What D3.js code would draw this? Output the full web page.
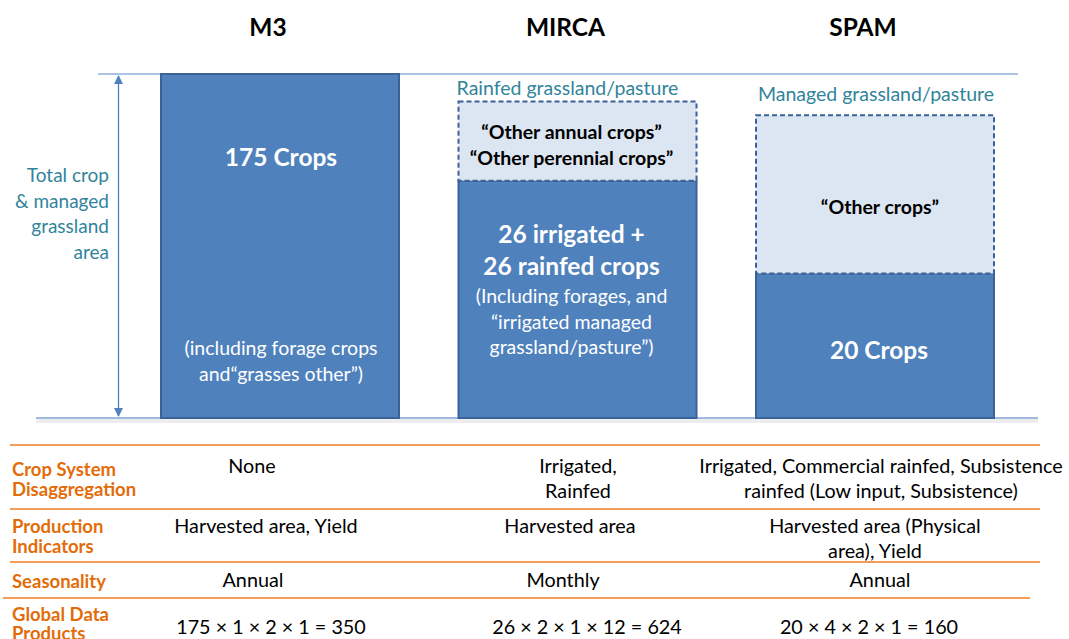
<!DOCTYPE html>
<html>
<head>
<meta charset="utf-8">
<script src="https://cdn.jsdelivr.net/npm/d3@7"></script>
<style>
  html, body { margin: 0; padding: 0; background: #fff; }
  svg { display: block; font-family: Lato, "Open Sans", sans-serif; }
</style>
</head>
<body>
<svg id="chart" width="1069" height="639"></svg>
<script>
// ---------------- DATA ----------------
const models = ["M3", "MIRCA", "SPAM"];
const coreShare = [100, 69, 42];          // share of total crop & managed grassland area (dark part)
const otherShare = [0, 23, 46];           // "other crops" dashed part
const grassLabel = ["", "Rainfed grassland/pasture", "Managed grassland/pasture"];
const otherLabel = [[], ["“Other annual crops”", "“Other perennial crops”"], ["“Other crops”"]];
const coreTitle = [["175 Crops"], ["26 irrigated +", "26 rainfed crops"], ["20 Crops"]];
const coreNote = [["(including forage crops", "and“grasses other”)"],
                  ["(Including forages, and", "“irrigated managed", "grassland/pasture”)"], []];
const axisLabel = ["Total  crop", "& managed", "grassland", "area"];

const rowLabels = [["Crop System", "Disaggregation"], ["Production", "Indicators"], ["Seasonality"], ["Global Data", "Products"]];
const cellText = [
  [["None"], ["Irrigated,", "Rainfed"], ["Irrigated, Commercial rainfed, Subsistence", "rainfed (Low input, Subsistence)"]],
  [["Harvested area, Yield"], ["Harvested area"], ["Harvested area (Physical", "area), Yield"]],
  [["Annual"], ["Monthly"], ["Annual"]],
  [["175 × 1 × 2 × 1 = 350"], ["26 × 2 × 1 × 12 = 624"], ["20 × 4 × 2 × 1 = 160"]]
];

// ---------------- LAYOUT ----------------
const svg = d3.select("#chart");
const darkFill = "#4F81BD", darkStroke = "#3B6296", lightFill = "#DCE6F2";
const teal = "#31849B", orange = "#F59D56", orangeText = "#E36C09";

const x = d3.scaleBand().domain(models).range([161, 994]).paddingInner(0.2).paddingOuter(0);
const y = d3.scaleLinear().domain([0, 100]).range([418, 74]);

// shadow under baseline
svg.append("rect").attr("x", 36).attr("y", y(0) + 1).attr("width", 1002).attr("height", 4)
  .attr("fill", "#EDEDED");
// top and bottom reference lines
svg.append("line").attr("x1", 98).attr("x2", 1018).attr("y1", y(100)).attr("y2", y(100))
  .attr("stroke", "#8FB0D8").attr("stroke-width", 1.3);
svg.append("line").attr("x1", 36).attr("x2", 1038).attr("y1", y(0)).attr("y2", y(0))
  .attr("stroke", "#7FA3D0").attr("stroke-width", 1.5);

// double-headed arrow
const defs = svg.append("defs");
defs.append("marker").attr("id", "ah").attr("viewBox", "0 0 10 10").attr("refX", 9).attr("refY", 5)
  .attr("markerWidth", 7).attr("markerHeight", 7).attr("orient", "auto-start-reverse")
  .append("path").attr("d", "M0,0 L10,5 L0,10 z").attr("fill", "#4F81BD");
svg.append("line").attr("x1", 118.5).attr("x2", 118.5).attr("y1", y(100) + 2).attr("y2", y(0) - 2)
  .attr("stroke", "#4F81BD").attr("stroke-width", 1.3)
  .attr("marker-start", "url(#ah)").attr("marker-end", "url(#ah)");

// axis label
svg.append("g").selectAll("text").data(axisLabel).join("text")
  .attr("x", 109).attr("y", (d, i) => 182 + i * 25.7)
  .attr("text-anchor", "end").attr("fill", teal).attr("font-size", 19).text(d => d);

// model titles
svg.append("g").selectAll("text").data(models).join("text")
  .attr("x", d => x(d) + x.bandwidth() / 2 - 12).attr("y", 36)
  .attr("text-anchor", "middle").attr("font-weight", "bold").attr("font-size", 24.5).attr("fill", "#000")
  .text(d => d);

// bars
const data = models.map((m, i) => ({ m, i, core: coreShare[i], other: otherShare[i] }));
const g = svg.append("g");
g.selectAll("rect.core").data(data).join("rect").attr("class", "core")
  .attr("x", d => x(d.m)).attr("width", x.bandwidth())
  .attr("y", d => y(d.core)).attr("height", d => y(0) - y(d.core))
  .attr("fill", darkFill).attr("stroke", darkStroke).attr("stroke-width", 2);
g.selectAll("rect.other").data(data.filter(d => d.other > 0)).join("rect").attr("class", "other")
  .attr("x", d => x(d.m)).attr("width", x.bandwidth())
  .attr("y", d => y(d.core + d.other)).attr("height", d => y(d.core) - y(d.core + d.other))
  .attr("fill", lightFill).attr("stroke", darkStroke).attr("stroke-width", 2)
  .attr("stroke-dasharray", "5,3");

// text centre nudges per bar
const nudge = [1, -6, 4];
const cx = d => x(d.m) + x.bandwidth() / 2 + nudge[d.i];

// grassland labels above dashed boxes
const grassNudge = [0, -10, 1], grassLift = [0, 7, 14.5];
g.selectAll("text.grass").data(data.filter(d => grassLabel[d.i])).join("text").attr("class", "grass")
  .attr("x", d => x(d.m) + x.bandwidth() / 2 + grassNudge[d.i])
  .attr("y", d => y(d.core + d.other) - grassLift[d.i])
  .attr("text-anchor", "middle").attr("fill", teal).attr("font-size", 19.5)
  .text(d => grassLabel[d.i]);

// text inside dashed boxes (baseline offsets from box top)
const otherOffset = [[], [37, 63], [99]];
data.forEach(d => {
  const top = y(d.core + d.other);
  otherLabel[d.i].forEach((t, k) => {
    g.append("text").attr("x", cx(d) + (d.i === 2 ? 1 : 0)).attr("y", top + otherOffset[d.i][k])
      .attr("text-anchor", "middle").attr("font-weight", "bold").attr("font-size", 19.5).attr("fill", "#000")
      .text(t);
  });
});

// core titles and notes (baseline offsets from core bar top)
const titleOffset = [[92], [62, 94], [85]];
const noteOffset = [[281, 307], [122, 148, 173], []];
data.forEach(d => {
  const top = y(d.core);
  coreTitle[d.i].forEach((t, k) => {
    g.append("text").attr("x", cx(d)).attr("y", top + titleOffset[d.i][k])
      .attr("text-anchor", "middle").attr("font-weight", "bold").attr("font-size", 24.5).attr("fill", "#fff")
      .text(t);
  });
  coreNote[d.i].forEach((t, k) => {
    g.append("text").attr("x", cx(d)).attr("y", top + noteOffset[d.i][k])
      .attr("text-anchor", "middle").attr("font-size", 19.5).attr("fill", "#fff")
      .text(t);
  });
});

// ---------------- TABLE ----------------
const sepLines = [[10, 1040, 445], [10, 1040, 509], [10, 1040, 562], [3, 1030, 598]];
svg.append("g").selectAll("line").data(sepLines).join("line")
  .attr("x1", d => d[0]).attr("x2", d => d[1]).attr("y1", d => d[2]).attr("y2", d => d[2])
  .attr("stroke", orange).attr("stroke-width", 2);

const rowBase = [[475.5, 495.5], [532.5, 552.5], [587.5], [620.5, 639.5]];
rowLabels.forEach((lines, r) => {
  lines.forEach((t, k) => {
    svg.append("text").attr("x", 12).attr("y", rowBase[r][k])
      .attr("font-weight", "bold").attr("font-size", 18.5).attr("fill", orangeText).text(t);
  });
});

const colX = [[252, 578, 881], [266, 570, 875], [253, 563, 880], [271, 587, 869]];
const cellBase = [[473, 498], [533, 558], [587], [634]];
cellText.forEach((row, r) => {
  row.forEach((lines, c) => {
    lines.forEach((t, k) => {
      svg.append("text").attr("x", colX[r][c]).attr("y", cellBase[r][k])
        .attr("text-anchor", "middle").attr("font-size", 19.8).attr("fill", "#000").text(t);
    });
  });
});
</script>
</body>
</html>
